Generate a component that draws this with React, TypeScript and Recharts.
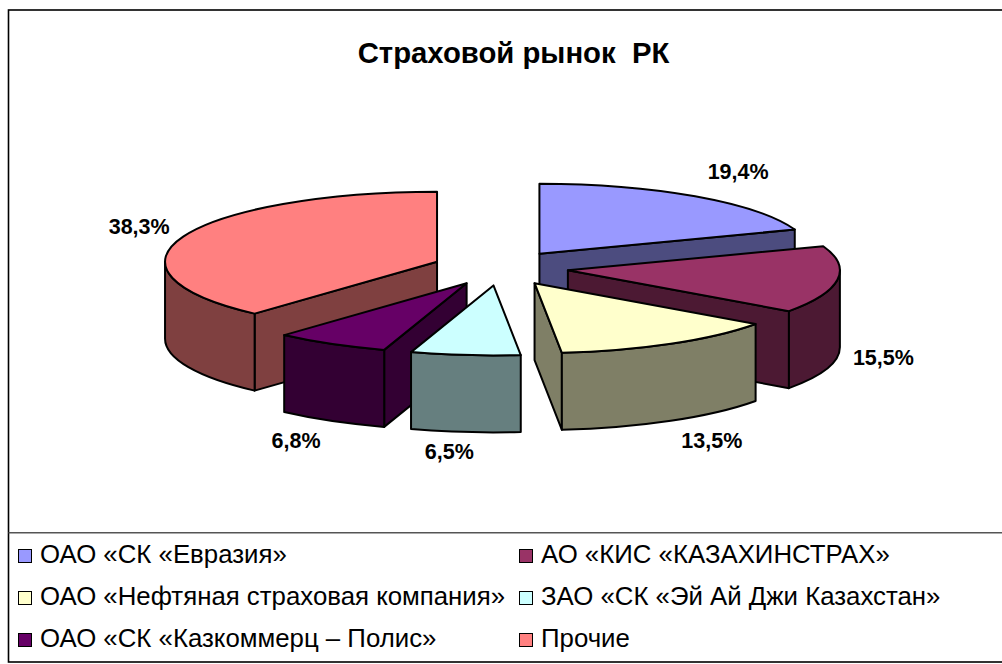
import { Legend, Pie, PieChart } from "recharts";

const names = [
  "ОАО «СК «Евразия»",
  "АО «КИС «КАЗАХИНСТРАХ»",
  "ОАО «Нефтяная страховая компания»",
  "ЗАО «СК «Эй Ай Джи Казахстан»",
  "ОАО «СК «Казкоммерц – Полис»",
  "Прочие",
];
const shares = [19.4, 15.5, 13.5, 6.5, 6.8, 38.3];
const colors = ["#9999ff", "#993366", "#ffffcc", "#ccffff", "#660066", "#ff8080"];
// back to front, the slices overlap each other
const drawOrder = [0, 5, 1, 4, 2, 3];
// small shifts of the percent labels away from the rim
const labelShift = [
  [43, -24],
  [46, 1],
  [41, 20],
  [-16, 20],
  [-35, 20],
  [-44, -10],
];

const data = names.map((name, i) => ({ name, value: shares[i], fill: colors[i] }));

const FONT = '"Liberation Sans", Arial, sans-serif';
const TILT = 70 / 272;
const EXPLODE = 0.25;
const DEPTH = 77;

function darken(hex: string) {
  const n = parseInt(hex.slice(1), 16);
  const r = (n >> 16) >> 1;
  const g = ((n >> 8) & 255) >> 1;
  const b = (n & 255) >> 1;
  return `rgb(${r},${g},${b})`;
}

// clockwise degrees from twelve o'clock
const rad = (a: number) => (a * Math.PI) / 180;

function vertexOf(cx: number, cy: number, r: number, mid: number) {
  return {
    x: cx + EXPLODE * r * Math.sin(rad(mid)),
    y: cy - EXPLODE * r * TILT * Math.cos(rad(mid)),
  };
}

function Slice3D(props: any) {
  const { cx, cy, outerRadius: r, startAngle, endAngle, fill } = props;
  const a0 = 90 - startAngle;
  const a1 = 90 - endAngle;
  const v = vertexOf(cx, cy, r, (a0 + a1) / 2);
  const rim = (a: number) => ({
    x: v.x + r * Math.sin(rad(a)),
    y: v.y - r * TILT * Math.cos(rad(a)),
  });
  const ry = r * TILT;
  const side = darken(fill);
  const p0 = rim(a0);
  const p1 = rim(a1);
  const large = a1 - a0 > 180 ? 1 : 0;

  const cut = (p: { x: number; y: number }) =>
    `M${v.x},${v.y} L${p.x},${p.y} L${p.x},${p.y + DEPTH} L${v.x},${v.y + DEPTH} Z`;
  // a cut face only shows when it turns towards the viewer
  const showStart = Math.cos(rad(a0 - 90)) < 0;
  const showEnd = Math.cos(rad(a1 + 90)) < 0;

  const w0 = Math.max(a0, 90);
  const w1 = Math.min(a1, 270);
  let wall = "";
  if (w1 > w0) {
    const a = rim(w0);
    const b = rim(w1);
    wall = `M${a.x},${a.y} A${r},${ry} 0 0 1 ${b.x},${b.y} L${b.x},${b.y + DEPTH} A${r},${ry} 0 0 0 ${a.x},${a.y + DEPTH} Z`;
  }

  const outline = { stroke: "#000", strokeWidth: 2, strokeLinejoin: "round" as const };
  return (
    <g>
      {showStart && <path d={cut(p0)} fill={side} {...outline} />}
      {showEnd && <path d={cut(p1)} fill={side} {...outline} />}
      {wall && <path d={wall} fill={side} {...outline} />}
      <path
        d={`M${v.x},${v.y} L${p0.x},${p0.y} A${r},${ry} 0 ${large} 1 ${p1.x},${p1.y} Z`}
        fill={fill}
        {...outline}
      />
    </g>
  );
}

function PercentLabel(props: any) {
  const { cx, cy, outerRadius: r, midAngle, index } = props;
  const mid = 90 - midAngle;
  const v = vertexOf(cx, cy, r, mid);
  const x = v.x + r * Math.sin(rad(mid));
  let y = v.y - r * TILT * Math.cos(rad(mid));
  if (Math.cos(rad(mid)) < 0) y += DEPTH;
  const [dx, dy] = labelShift[index];
  return (
    <text
      x={x + dx}
      y={y + dy}
      textAnchor="middle"
      dominantBaseline="central"
      fontFamily={FONT}
      fontWeight="bold"
      fontSize={21.5}
      fill="#000"
    >
      {shares[index].toFixed(1).replace(".", ",")}%
    </text>
  );
}

function LegendBox() {
  return (
    <div
      style={{
        display: "grid",
        gridTemplateColumns: "501px 480px",
        gridAutoRows: "42.3px",
        paddingLeft: 18,
        paddingTop: 0,
        fontFamily: FONT,
        fontSize: 25.8,
        color: "#000",
      }}
    >
      {names.map((name, i) => (
        <div key={name} style={{ display: "flex", alignItems: "center", whiteSpace: "nowrap" }}>
          <span
            style={{
              width: 12,
              height: 12,
              marginRight: 8,
              marginTop: 3,
              background: colors[i],
              border: "1.5px solid #000",
              flex: "none",
            }}
          />
          {name}
        </div>
      ))}
    </div>
  );
}

export default function App() {
  return (
    <div style={{ position: "absolute", left: 0, top: 0 }}>
      <PieChart width={1002} height={664} margin={{ top: 0, right: 0, bottom: 0, left: 0 }}>
        <rect x={8.5} y={10} width={1010} height={652} fill="#fff" stroke="#000" strokeWidth={1.6} />
        <line x1={8.5} x2={1002} y1={532.7} y2={532.7} stroke="#555" strokeWidth={1.5} />
        <text x={513.5} y={63} textAnchor="middle" fontFamily={FONT} fontWeight="bold" fontSize={29.3} fill="#000" style={{ whiteSpace: "pre" }}>
          Страховой рынок  РК
        </text>
        {drawOrder.map((idx) => (
          <Pie
            key={names[idx]}
            data={data}
            dataKey="value"
            nameKey="name"
            cx={500.5}
            cy={268}
            innerRadius={0}
            outerRadius={272}
            startAngle={90}
            endAngle={-270}
            stroke="none"
            isAnimationActive={false}
            legendType="none"
            labelLine={false}
            label={(p: any) => (p.index === idx ? <PercentLabel {...p} /> : null)}
            shape={(p: any) => (p.name === names[idx] ? <Slice3D {...p} /> : <g />)}
          />
        ))}
        <Legend
          content={<LegendBox />}
          wrapperStyle={{ position: "absolute", left: 0, top: 533, width: 1002, height: 128, bottom: "auto" }}
        />
      </PieChart>
    </div>
  );
}
